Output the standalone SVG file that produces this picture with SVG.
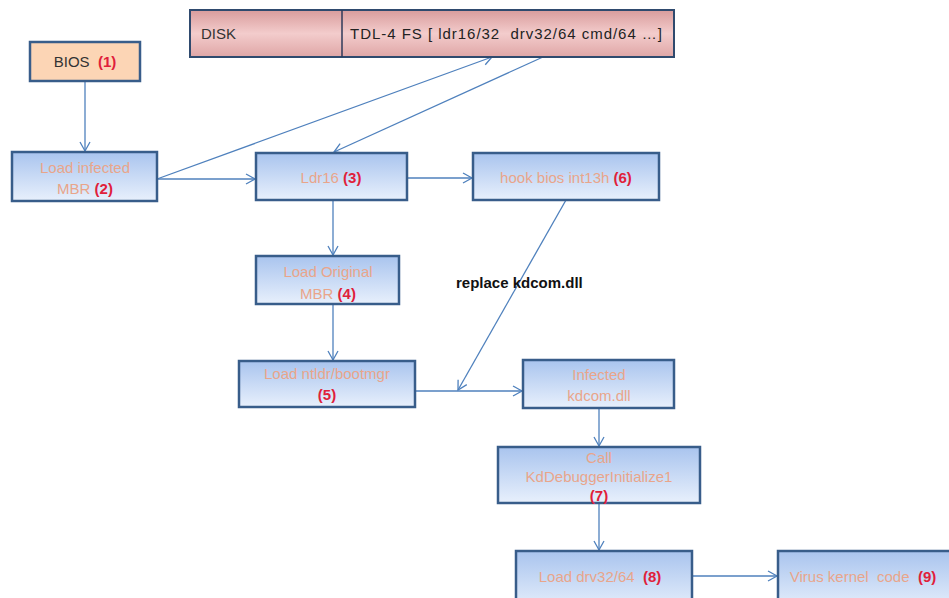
<svg xmlns="http://www.w3.org/2000/svg" width="949" height="598" viewBox="0 0 949 598" xml:space="preserve">
<defs>
<linearGradient id="blue" x1="0" y1="0" x2="0" y2="1">
<stop offset="0" stop-color="#a9c4ee"/>
<stop offset="1" stop-color="#e8f0fc"/>
</linearGradient>
<linearGradient id="pink" x1="0" y1="0" x2="0" y2="1">
<stop offset="0" stop-color="#d99c9c"/>
<stop offset="0.5" stop-color="#f3cccc"/>
<stop offset="1" stop-color="#dfa6a6"/>
</linearGradient>
<marker id="arr" markerWidth="12" markerHeight="12" refX="10" refY="6" orient="auto" markerUnits="userSpaceOnUse">
<path d="M1,1 L10,6 L1,11" fill="none" stroke="#4f81bd" stroke-width="1.3"/>
</marker>
<style>
text{white-space:pre}
.box{fill:url(#blue);stroke:#385d8a;stroke-width:2.5}
.t{font-family:"Liberation Sans","Open Sans",sans-serif;font-size:15px;fill:#e9a58a;text-anchor:middle}
.n{fill:#e0203a;font-weight:bold}
.c{fill:none;stroke:#4f81bd;stroke-width:1.3;marker-end:url(#arr)}
</style>
</defs>
<rect width="949" height="598" fill="#ffffff"/>
<g id="connectors">
<path class="c" d="M85,81 L85,151"/>
<path class="c" d="M157,179 L255,179"/>
<path class="c" d="M157,179 L492,57"/>
<path class="c" d="M543,57 L334,152"/>
<path class="c" d="M407,178 L472,178"/>
<path class="c" d="M333,200 L333,255"/>
<path class="c" d="M333,304 L333,360"/>
<path class="c" d="M566,200 L458,390"/>
<path class="c" d="M415,391 L522,391"/>
<path class="c" d="M599,408 L599,446"/>
<path class="c" d="M599,503 L599,550"/>
<path class="c" d="M692,576 L777,576"/>
</g>
<g id="disk">
<rect x="190" y="10" width="484" height="47" fill="url(#pink)" stroke="#2f4a6e" stroke-width="2"/>
<line x1="342" y1="10" x2="342" y2="57" stroke="#2f3a5a" stroke-width="1.5"/>
<text x="201" y="39" font-family="Liberation Sans, sans-serif" font-size="15" fill="#333">DISK</text>
<text x="350" y="39" font-family="Liberation Sans, sans-serif" font-size="15" fill="#222" textLength="312" lengthAdjust="spacing">TDL-4 FS [ ldr16/32  drv32/64 cmd/64 …]</text>
</g>
<g id="bios">
<rect x="30" y="42" width="110" height="39" fill="#fcd5b5" stroke="#385d8a" stroke-width="2.5"/>
<text class="t" x="85" y="67" style="fill:#333">BIOS  <tspan class="n">(1)</tspan></text>
</g>
<g id="mbr">
<rect class="box" x="12" y="152" width="145" height="49"/>
<text class="t" x="85" y="173">Load infected</text>
<text class="t" x="85" y="194">MBR <tspan class="n">(2)</tspan></text>
</g>
<g id="ldr16">
<rect class="box" x="256" y="153" width="151" height="47"/>
<text class="t" x="331" y="183">Ldr16 <tspan class="n">(3)</tspan></text>
</g>
<g id="hook">
<rect class="box" x="473" y="153" width="186" height="47"/>
<text class="t" x="566" y="183">hook bios int13h <tspan class="n">(6)</tspan></text>
</g>
<g id="origmbr">
<rect class="box" x="256" y="256" width="143" height="48"/>
<text class="t" x="328" y="277">Load Original</text>
<text class="t" x="328" y="299">MBR <tspan class="n">(4)</tspan></text>
</g>
<g id="ntldr">
<rect class="box" x="239" y="361" width="176" height="46"/>
<text class="t" x="327" y="379">Load ntldr/bootmgr</text>
<text class="t" x="327" y="400"><tspan class="n">(5)</tspan></text>
</g>
<g id="kdcom">
<rect class="box" x="523" y="360" width="151" height="48"/>
<text class="t" x="599" y="380">Infected</text>
<text class="t" x="599" y="401">kdcom.dll</text>
</g>
<g id="call">
<rect class="box" x="498" y="447" width="202" height="56"/>
<text class="t" x="599" y="463">Call</text>
<text class="t" x="599" y="482">KdDebuggerInitialize1</text>
<text class="t" x="599" y="501"><tspan class="n">(7)</tspan></text>
</g>
<g id="drv">
<rect class="box" x="516" y="551" width="176" height="60"/>
<text class="t" x="600" y="582">Load drv32/64  <tspan class="n">(8)</tspan></text>
</g>
<g id="virus">
<rect class="box" x="778" y="551" width="185" height="60"/>
<text class="t" x="863" y="582">Virus kernel  code  <tspan class="n">(9)</tspan></text>
</g>
<g id="label">
<text x="456" y="288" font-family="Liberation Sans, sans-serif" font-size="15" font-weight="bold" fill="#111">replace kdcom.dll</text>
</g>
</svg>
